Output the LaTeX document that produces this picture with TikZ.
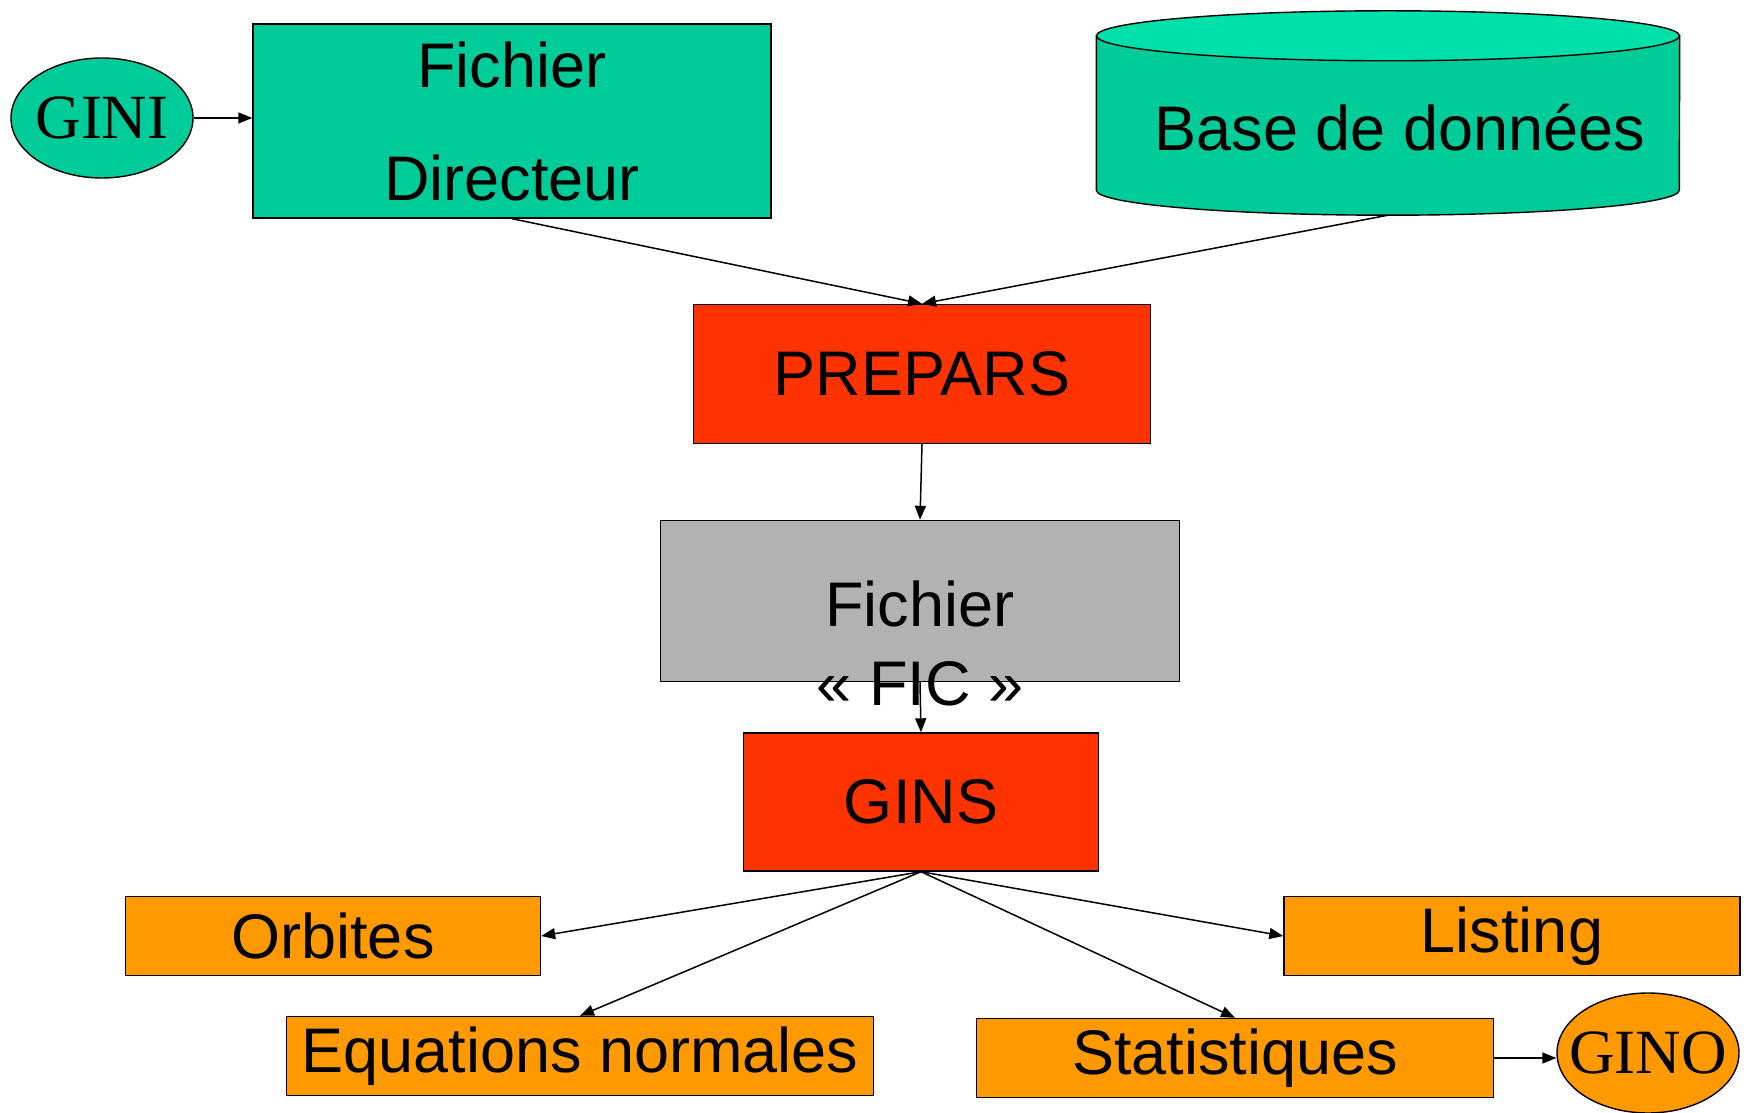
\documentclass[tikz,border=0pt]{standalone}
\usepackage{fontspec}
\setmainfont{Liberation Sans}
\newfontfamily\timesfont{Liberation Serif}
\usepackage{tikz}
\usetikzlibrary{arrows.meta, shapes.geometric, backgrounds}

\definecolor{vertfic}{RGB}{0,204,153}
\definecolor{verthaut}{RGB}{0,224,170}
\definecolor{rouge}{RGB}{255,51,0}
\definecolor{gris}{RGB}{178,178,178}
\definecolor{naranja}{RGB}{255,153,0}

\begin{document}
\begin{tikzpicture}[x=1pt, y=1pt,
							texto/.style={font=\fontsize{63}{79}\selectfont},
							caja/.style={draw, line width=1.4pt, inner sep=0pt, texto},
							elipse/.style={draw, ellipse, line width=1.4pt, inner xsep=-25pt, inner ysep=0pt, minimum width=182pt, minimum height=120pt, font=\timesfont\fontsize{63}{76}\selectfont},
							flecha/.style={-{Triangle[length=14pt, width=11pt]}, line width=1.5pt}
							]
							\useasboundingbox (0,0) rectangle (1746,1112);
							
							% Entradas
							\node[elipse, fill=vertfic] (GINI) at (102,994) {GINI};
							\node[caja, fill=vertfic, minimum width=518pt, minimum height=194pt, align=center] (DIR) at (512,991) {Fichier\\[34pt]Directeur};
							\node[minimum width=583pt, minimum height=154pt, inner sep=0pt] (BD) at (1388,999) {};
							\node[texto] (BDtexto) at (1400,984) {Base de données};
							\coordinate (BDbas) at ([yshift=-25pt]BD.south);
							
							% Cilindro de la base, detrás del texto
							\begin{scope}[on background layer]
							\draw[line width=1.4pt, fill=vertfic] (BD.north west) -- (BD.south west) arc[start angle=180, end angle=360, x radius=291.5, y radius=25] -- (BD.north east) -- cycle;
							\draw[line width=1.4pt, fill=verthaut] (BD.north) ellipse[x radius=291.5, y radius=25];
							\end{scope}
							
							% Programas y fichero intermedio
							\node[caja, fill=rouge, minimum width=457pt, minimum height=139pt] (PREPARS) at (922,738) {PREPARS};
							\node[caja, fill=gris, minimum width=519pt, minimum height=161pt] (FIC) at (920,511) {};
							\node[texto, align=center] (FICtexto) at (920,469) {Fichier\\« FIC »};
							\node[caja, fill=rouge, minimum width=355pt, minimum height=138pt] (GINS) at (921,310) {GINS};
							
							% Salidas
							\node[caja, fill=naranja, minimum width=415pt, minimum height=79pt] (ORB) at (333,176) {Orbites};
							\node[caja, fill=naranja, minimum width=456pt, minimum height=79pt] (LIST) at (1512,176) {Listing};
							\node[caja, fill=naranja, minimum width=587pt, minimum height=79pt] (EQN) at (580,56) {Equations normales};
							\node[caja, fill=naranja, minimum width=517pt, minimum height=79pt] (STAT) at (1235,54) {Statistiques};
							\node[elipse, fill=naranja, minimum height=120pt] (GINO) at (1648,59) {GINO};
							
							% Flechas
							\draw[flecha] (GINI.east) -- (GINI.east -| DIR.west);
							\draw[flecha] (DIR.south) -- (PREPARS.north);
							\draw[flecha] (BDbas) -- (PREPARS.north);
							\draw[flecha] (PREPARS.south) -- (FIC.north);
							\draw[flecha] (FIC.south) -- (GINS.north);
							\draw[flecha] (GINS.south) -- (ORB.east);
							\draw[flecha] (GINS.south) -- (EQN.north);
							\draw[flecha] (GINS.south) -- (STAT.north);
							\draw[flecha] (GINS.south) -- (LIST.west);
							\draw[flecha] (STAT.east) -- (STAT.east -| GINO.west);
						\end{tikzpicture}
\end{document}
